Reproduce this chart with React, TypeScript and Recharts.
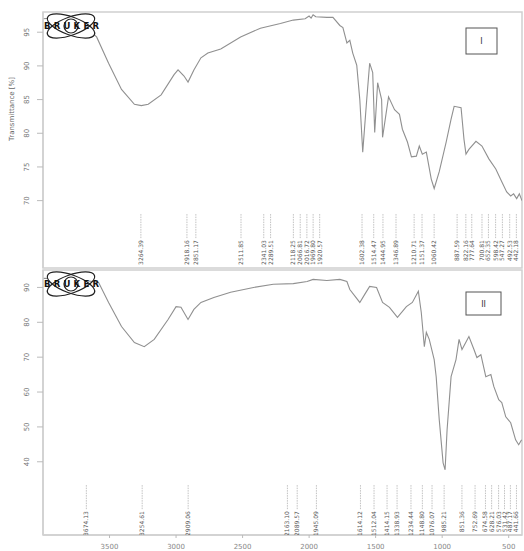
import React from "react";
import {
  ComposedChart,
  Line,
  Scatter,
  XAxis,
  YAxis,
  ReferenceArea,
} from "recharts";

// spectrum I (wavenumber cm-1 / transmittance %)
const WN_I = [
  4000, 3860, 3720, 3672, 3597, 3507, 3410, 3313, 3261, 3209, 3112, 3015, 2985, 2940, 2910, 2866, 2813,
  2761, 2664, 2515, 2366, 2216, 2119, 2030, 2000, 1985, 1970, 1950, 1866, 1821, 1769, 1746, 1716, 1694,
  1672, 1642, 1619, 1597, 1567, 1545, 1522, 1507, 1485, 1455, 1448, 1403, 1358, 1321, 1299, 1261, 1231,
  1194, 1172, 1149, 1119, 1082, 1060, 1022, 970, 933, 910, 858, 836, 821, 799, 746, 701, 649, 597, 552,
  515, 485, 463, 440, 420, 400,
];
const T_I = [
  97.0, 97.2, 96.4, 95.6, 94.3, 90.4, 86.5, 84.3, 84.1, 84.3, 85.7, 88.7, 89.4, 88.5, 87.6, 89.4, 91.2,
  91.9, 92.5, 94.3, 95.6, 96.3, 96.8, 97.0, 97.4, 97.1, 97.6, 97.3, 97.2, 97.2, 96.0, 95.7, 93.4, 93.8,
  91.9, 90.1, 85.0, 77.2, 85.0, 90.4, 89.0, 80.1, 87.5, 85.0, 79.4, 85.4, 83.5, 82.8, 80.6, 78.7, 76.5,
  76.6, 78.1, 76.9, 77.2, 73.2, 71.8, 74.3, 78.7, 82.1, 84.0, 83.8, 79.1, 76.9, 77.6, 78.8, 78.1, 76.2,
  74.7, 72.8, 71.3, 70.7, 71.0, 70.3, 71.0, 70.0,
];

// spectrum II
const WN_II = [
  4000, 3800, 3680, 3582, 3507, 3410, 3313, 3239, 3164, 3060, 3000, 2963, 2910, 2866, 2813, 2716, 2590,
  2418, 2269, 2119, 2015, 1970, 1866, 1769, 1716, 1694, 1619, 1582, 1545, 1493, 1448, 1396, 1336, 1269,
  1224, 1179, 1157, 1134, 1119, 1097, 1060, 1045, 1022, 993, 978, 963, 933, 896, 873, 851, 799, 761, 739,
  709, 672, 634, 612, 575, 552, 522, 485, 448, 425, 403,
];
const T_II = [
  92.6, 92.5, 92.0, 91.4, 85.7, 78.8, 74.2, 73.0, 75.1, 80.8, 84.5, 84.3, 80.8, 83.7, 85.7, 87.1, 88.6,
  90.0, 90.9, 91.1, 91.7, 92.3, 92.0, 92.3, 91.7, 89.4, 85.7, 88.0, 90.3, 90.0, 85.7, 84.3, 81.4, 84.5,
  85.7, 88.9, 82.8, 73.0, 77.1, 75.1, 69.3, 64.4, 52.1, 39.7, 37.7, 49.2, 64.4, 69.3, 75.1, 72.2, 75.9,
  72.2, 69.9, 70.7, 64.4, 65.0, 61.6, 57.8, 57.0, 52.9, 51.2, 46.3, 44.9, 46.3,
];

// peak picks
const PEAKS_I = [
  3264.39, 2918.16, 2851.17, 2511.85, 2341.03, 2289.51, 2118.25, 2066.81, 2016.72, 1969.8, 1920.57,
  1602.38, 1514.47, 1444.95, 1346.89, 1210.71, 1151.37, 1060.42, 887.59, 822.16, 777.64, 700.81, 652.35,
  598.42, 547.27, 492.53, 442.18,
];
const PEAKS_II = [
  3674.13, 3254.61, 2909.06, 2163.1, 2089.57, 1945.09, 1614.12, 1512.04, 1414.15, 1338.93, 1234.44,
  1148.8, 1076.07, 985.21, 851.36, 752.69, 674.58, 628.21, 576.03, 531.42, 487.17, 441.66,
];

const X_TICKS = [3500, 3000, 2500, 2000, 1500, 1000, 500];
const Y_TICKS_I = [70, 75, 80, 85, 90, 95];
const Y_TICKS_II = [40, 50, 60, 70, 80, 90];

const zip = (wn: number[], t: number[]) => wn.map((w, i) => ({ wn: w, t: t[i] }));
const specI = zip(WN_I, T_I);
const specII = zip(WN_II, T_II);

const AXIS = "#d0d0d0";
const CURVE = "#909090";

// y tick labels are drawn vertically, like the OPUS printout
const YTick = (props: any) => {
  const { y, payload } = props;
  return (
    <g transform={`translate(29,${y}) rotate(-90)`}>
      <text x={0} y={0} textAnchor="middle" fontSize={7} fill="#777">
        {payload.value}
      </text>
    </g>
  );
};

const PeakMark = (props: any) => {
  const { cx, cy, payload } = props;
  if (cx == null || cy == null) return null;
  return (
    <g>
      <line x1={cx} y1={cy} x2={cx} y2={cy + 24} stroke="#a8a8a8" strokeWidth={0.7} strokeDasharray="1.5 1" />
      <g transform={`translate(${cx + 2},${cy + 26}) rotate(-90)`}>
        <text x={0} y={0} textAnchor="end" fontSize={6} fill="#555">
          {payload.label}
        </text>
      </g>
    </g>
  );
};

function Panel({
  spec,
  peaks,
  peakT,
  domain,
  yTicks,
  height,
  margin,
  showX,
}: {
  spec: { wn: number; t: number }[];
  peaks: number[];
  peakT: number;
  domain: [number, number];
  yTicks: number[];
  height: number;
  margin: { top: number; right: number; bottom: number; left: number };
  showX: boolean;
}) {
  const peakData = peaks.map((wn) => ({ wn, t: peakT, label: wn.toFixed(2) }));
  return (
    <ComposedChart width={524} height={height} margin={margin}>
      <XAxis
        type="number"
        dataKey="wn"
        domain={[400, 4000]}
        reversed
        allowDataOverflow
        hide={!showX}
        ticks={X_TICKS}
        height={16}
        tick={{ fontSize: 7, fill: "#888" }}
        tickSize={3}
        tickMargin={6}
        tickLine={{ stroke: "#bbb" }}
        axisLine={{ stroke: AXIS, strokeWidth: 1.5 }}
      />
      <YAxis
        type="number"
        dataKey="t"
        width={43}
        domain={domain}
        allowDataOverflow
        ticks={yTicks}
        tick={<YTick />}
        tickSize={6}
        tickLine={{ stroke: "#bbb" }}
        axisLine={{ stroke: AXIS, strokeWidth: 1.5 }}
      />
      <ReferenceArea
        x1={4000}
        x2={400}
        y1={domain[0]}
        y2={domain[1]}
        fill="none"
        stroke={AXIS}
        strokeWidth={1.5}
        ifOverflow="visible"
      />
      <Line
        data={spec}
        dataKey="t"
        type="linear"
        stroke={CURVE}
        strokeWidth={1.1}
        dot={false}
        isAnimationActive={false}
      />
      <Scatter data={peakData} dataKey="t" shape={<PeakMark />} isAnimationActive={false} />
    </ComposedChart>
  );
}

function Logo({ cx, cy }: { cx: number; cy: number }) {
  return (
    <g>
      <ellipse cx={cx} cy={cy} rx={25} ry={9} transform={`rotate(20 ${cx} ${cy})`} fill="#fff" stroke="#222" strokeWidth={1.2} />
      <ellipse cx={cx} cy={cy} rx={25} ry={9} transform={`rotate(-20 ${cx} ${cy})`} fill="none" stroke="#222" strokeWidth={1.2} />
      <circle cx={cx} cy={cy} r={7} fill="none" stroke="#222" strokeWidth={1.2} />
      <text
        x={cx - 27}
        y={cy + 3}
        textLength={55}
        lengthAdjust="spacing"
        fontSize={8.5}
        fontWeight="bold"
        fill="#111"
      >
        BRUKER
      </text>
    </g>
  );
}

export default function App() {
  return (
    <div
      style={{
        position: "absolute",
        left: 0,
        top: 0,
        width: 524,
        height: 551,
        background: "#fff",
        fontFamily: "'DejaVu Sans', sans-serif",
      }}
    >
      <div style={{ position: "absolute", left: 0, top: 0 }}>
        <Panel
          spec={specI}
          peaks={PEAKS_I}
          peakT={68}
          domain={[60, 98]}
          yTicks={Y_TICKS_I}
          height={270}
          margin={{ top: 12, right: 2, bottom: 2, left: 0 }}
          showX={false}
        />
      </div>
      <div style={{ position: "absolute", left: 0, top: 268 }}>
        <Panel
          spec={specII}
          peaks={PEAKS_II}
          peakT={33.3}
          domain={[19, 95]}
          yTicks={Y_TICKS_II}
          height={283}
          margin={{ top: 2, right: 2, bottom: 0, left: 0 }}
          showX
        />
      </div>
      <svg
        width={524}
        height={551}
        style={{ position: "absolute", left: 0, top: 0, pointerEvents: "none" }}
      >
        <g transform="translate(14,109) rotate(-90)">
          <text x={0} y={0} textAnchor="middle" fontSize={7} fill="#666">
            Transmittance [%]
          </text>
        </g>
        <Logo cx={71} cy={26} />
        <Logo cx={71} cy={284} />
        <rect x={466} y={28} width={31} height={26} fill="#fff" stroke="#555" strokeWidth={1} />
        <text x={481.5} y={44} textAnchor="middle" fontSize={8} fill="#333">
          I
        </text>
        <rect x={466} y={292} width={35} height={23} fill="#fff" stroke="#555" strokeWidth={1} />
        <text x={483.5} y={306.5} textAnchor="middle" fontSize={8} fill="#333">
          II
        </text>
      </svg>
    </div>
  );
}
